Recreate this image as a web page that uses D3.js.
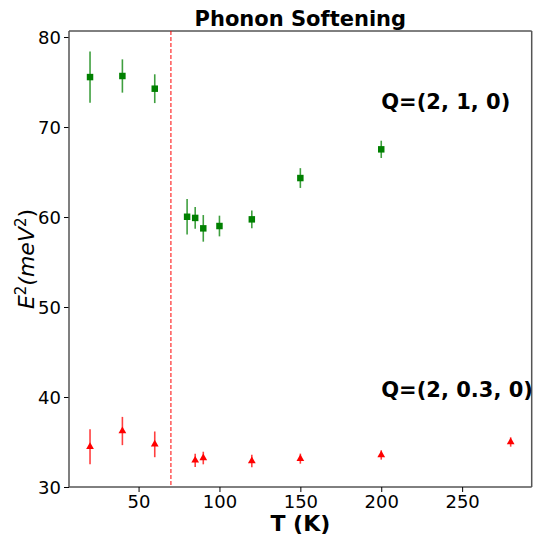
<!DOCTYPE html>
<html>
<head>
<meta charset="utf-8">
<script src="https://cdn.jsdelivr.net/npm/d3@7"></script>
<style>
  body { margin: 0; background: #fff; }
  text { font-family: "DejaVu Sans", sans-serif; }
</style>
</head>
<body>
<div id="svg-container"></div>
<script>
// data
const tempsQ1 = [20, 40, 60, 80, 85, 90, 100, 120, 150, 200];
const e2Q1 = [75.55, 75.67, 74.26, 60.03, 59.9, 58.74, 59.0, 59.74, 64.33, 67.52];
const errQ1 = [2.85, 1.85, 1.6, 1.96, 1.2, 1.48, 1.15, 0.98, 1.1, 0.96];

const tempsQ2 = [20, 40, 60, 85, 90, 120, 150, 200, 280];
const e2Q2 = [34.48, 36.22, 34.74, 32.96, 33.22, 32.89, 33.15, 33.56, 35.0];
const errQ2 = [1.94, 1.57, 1.43, 0.74, 0.7, 0.7, 0.56, 0.52, 0.52];

const transitionT = 70;
const xTicks = [50, 100, 150, 200, 250];
const yTicks = [30, 40, 50, 60, 70, 80];

const width = 535, height = 537;
const margin = { top: 31, right: 3.3, bottom: 50, left: 69 };

const svg = d3.select("#svg-container").append("svg")
  .attr("width", width).attr("height", height);

const x = d3.scaleLinear().domain([7, 293]).range([margin.left, width - margin.right]);
const y = d3.scaleLinear().domain([30, 80.67]).range([height - margin.bottom, margin.top]);

// axes
svg.append("g")
  .attr("transform", `translate(0,${height - margin.bottom})`)
  .call(d3.axisBottom(x).tickValues(xTicks).tickSize(5).tickPadding(3))
  .call((g) => g.select(".domain").remove())
  .call((g) => g.selectAll("text").attr("font-size", 18).attr("fill", "#000"));

svg.append("g")
  .attr("transform", `translate(${margin.left},0)`)
  .call(d3.axisLeft(y).tickValues(yTicks).tickSize(5).tickPadding(3))
  .call((g) => g.select(".domain").remove())
  .call((g) => g.selectAll("text").attr("font-size", 18).attr("fill", "#000").attr("dy", "0.36em"));

// frame
const x0 = margin.left, x1 = width - margin.right;
const y0 = margin.top, y1 = height - margin.bottom;
svg.append("line").attr("x1", x0).attr("x2", x1).attr("y1", y0).attr("y2", y0).attr("stroke", "#000");
svg.append("line").attr("x1", x0).attr("x2", x1).attr("y1", y1).attr("y2", y1).attr("stroke", "#000");
svg.append("line").attr("x1", x0).attr("x2", x0).attr("y1", y0).attr("y2", y1).attr("stroke", "#555").attr("stroke-width", 1.5);
svg.append("line").attr("x1", x1).attr("x2", x1).attr("y1", y0).attr("y2", y1).attr("stroke", "#555").attr("stroke-width", 1.5);

// transition line
svg.append("line")
  .attr("x1", x(transitionT)).attr("x2", x(transitionT))
  .attr("y1", y0).attr("y2", y1)
  .attr("stroke", "red").attr("stroke-width", 1)
  .attr("stroke-dasharray", "4,2");

// Q=(2,1,0) green squares
const q1 = tempsQ1.map((t, i) => ({ t, v: e2Q1[i], e: errQ1[i] }));
svg.append("g").selectAll("line").data(q1).join("line")
  .attr("x1", (d) => x(d.t)).attr("x2", (d) => x(d.t))
  .attr("y1", (d) => y(d.v - d.e)).attr("y2", (d) => y(d.v + d.e))
  .attr("stroke", "green").attr("stroke-width", 1.6).attr("opacity", 0.75);
svg.append("g").selectAll("path").data(q1).join("path")
  .attr("transform", (d) => `translate(${x(d.t)},${y(d.v)})`)
  .attr("d", d3.symbol(d3.symbolSquare, 42))
  .attr("fill", "green");

// Q=(2,0.3,0) red triangles
const q2 = tempsQ2.map((t, i) => ({ t, v: e2Q2[i], e: errQ2[i] }));
svg.append("g").selectAll("line").data(q2).join("line")
  .attr("x1", (d) => x(d.t)).attr("x2", (d) => x(d.t))
  .attr("y1", (d) => y(d.v - d.e)).attr("y2", (d) => y(d.v + d.e))
  .attr("stroke", "red").attr("stroke-width", 1.6).attr("opacity", 0.75);
svg.append("g").selectAll("path").data(q2).join("path")
  .attr("transform", (d) => `translate(${x(d.t)},${y(d.v)})`)
  .attr("d", d3.symbol(d3.symbolTriangle, 26))
  .attr("fill", "red");

// annotations
svg.append("text").attr("x", x(200)).attr("y", y(72))
  .attr("font-size", 21).attr("font-weight", "bold").text("Q=(2, 1, 0)");
svg.append("text").attr("x", x(200)).attr("y", y(40))
  .attr("font-size", 21).attr("font-weight", "bold").text("Q=(2, 0.3, 0)");

// title & labels
svg.append("text").attr("x", (x0 + x1) / 2).attr("y", 26)
  .attr("text-anchor", "middle").attr("font-size", 21).attr("font-weight", "bold")
  .text("Phonon Softening");

svg.append("text").attr("x", (x0 + x1) / 2).attr("y", 531)
  .attr("text-anchor", "middle").attr("font-size", 22).attr("font-weight", "bold")
  .text("T (K)");

const yl = svg.append("text")
  .attr("transform", `translate(34,${(y0 + y1) / 2}) rotate(-90)`)
  .attr("text-anchor", "middle").attr("font-size", 22).attr("font-style", "italic");
yl.append("tspan").text("E");
yl.append("tspan").attr("font-size", 15).attr("dy", -8).attr("font-style", "normal").text("2");
yl.append("tspan").attr("dy", 8).text("(meV");
yl.append("tspan").attr("font-size", 15).attr("dy", -8).attr("font-style", "normal").text("2");
yl.append("tspan").attr("dy", 8).attr("font-style", "normal").text(")");
</script>
</body>
</html>
